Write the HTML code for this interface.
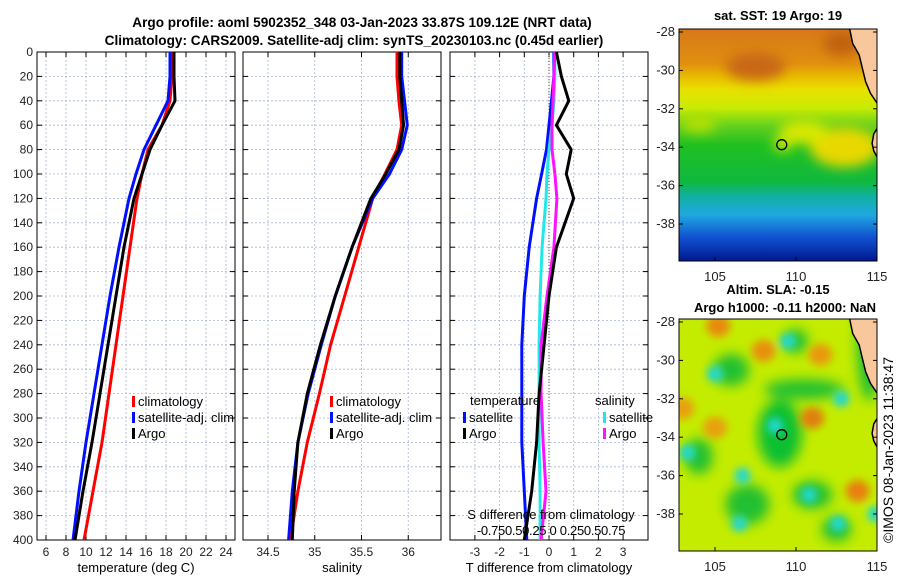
<!DOCTYPE html>
<html><head><meta charset="utf-8"><style>
body{margin:0;background:#fff;}
svg{display:block;font-family:"Liberation Sans","DejaVu Sans",sans-serif;}
</style></head><body>
<svg id="fig" width="900" height="580" viewBox="0 0 900 580">
<defs>
<clipPath id="c1"><rect x="37" y="52" width="198" height="488"/></clipPath>
<clipPath id="c2"><rect x="243" y="52" width="198" height="488"/></clipPath>
<clipPath id="c3"><rect x="450" y="52" width="198" height="488"/></clipPath>
<clipPath id="cm1"><rect x="679" y="29" width="198" height="232"/></clipPath>
<clipPath id="cm2"><rect x="679" y="319" width="198" height="232"/></clipPath>
<filter id="blur6"><feGaussianBlur stdDeviation="6"/></filter>
<filter id="blur4"><feGaussianBlur stdDeviation="4"/></filter>
<linearGradient id="sstgrad" x1="0" y1="0" x2="0" y2="1">
<stop offset="0" stop-color="#d87818"/><stop offset="0.15" stop-color="#e09010"/>
<stop offset="0.2" stop-color="#e8b800"/><stop offset="0.26" stop-color="#e8e000"/>
<stop offset="0.34" stop-color="#c8ec00"/><stop offset="0.42" stop-color="#60d020"/>
<stop offset="0.5" stop-color="#20c020"/><stop offset="0.66" stop-color="#10b840"/>
<stop offset="0.72" stop-color="#10b0a0"/><stop offset="0.8" stop-color="#20a8e0"/>
<stop offset="0.9" stop-color="#1050d0"/><stop offset="1" stop-color="#001890"/>
</linearGradient>
</defs>
<text x="362" y="27" text-anchor="middle" font-size="13.6" font-weight="bold">Argo profile: aoml 5902352_348 03-Jan-2023 33.87S 109.12E (NRT data)</text>
<text x="354" y="45" text-anchor="middle" font-size="13.6" font-weight="bold">Climatology: CARS2009. Satellite-adj clim: synTS_20230103.nc (0.45d earlier)</text>
<g id="p1"></g>
<g id="p2"></g>
<g id="p3"></g>
<g id="m1"></g>
<g id="m2"></g>
<text transform="translate(893,450) rotate(-90)" text-anchor="middle" font-size="14">©IMOS 08-Jan-2023 11:38:47</text>
</svg>
<script>
const depths=[0,20,40,60,80,100,120,160,200,240,280,320,360,400];
const tClim=[18.6,18.6,18.4,17.6,16.2,15.6,15.1,14.4,13.7,13.0,12.3,11.6,10.7,9.8];
const tSat=[18.4,18.4,18.2,17.0,15.8,15.0,14.3,13.3,12.4,11.6,10.8,10.0,9.3,8.7];
const tArgo=[18.8,18.8,18.9,17.6,16.4,15.6,14.8,13.8,13.0,12.2,11.4,10.6,9.7,8.9];
const sClim=[35.88,35.88,35.90,35.93,35.88,35.75,35.62,35.47,35.32,35.17,35.05,34.92,34.82,34.74];
const sSat=[35.93,35.93,35.96,35.99,35.93,35.80,35.62,35.40,35.22,35.07,34.93,34.82,34.76,34.72];
const sArgo=[35.91,35.91,35.93,35.95,35.90,35.76,35.60,35.40,35.22,35.06,34.92,34.82,34.78,34.76];
const dTSat=[0.2,0.2,0.1,0,-0.1,-0.3,-0.5,-0.8,-1.0,-1.1,-1.1,-1.1,-1.0,-0.9];
const dTArgo=[0.3,0.5,0.8,0.3,0.9,0.7,1.0,0.3,0,-0.2,-0.4,-0.5,-0.7,-1.0];
const dSSat=[0.06,0.06,0.05,0.03,0.0,-0.02,-0.03,-0.07,-0.09,-0.10,-0.10,-0.10,-0.09,-0.09];
const dSArgo=[0.06,0.05,0.04,0.03,0.03,0.06,0.08,0.05,-0.02,-0.08,-0.08,-0.06,-0.03,-0.08];
const depthTicks=[0,20,40,60,80,100,120,140,160,180,200,220,240,260,280,300,320,340,360,380,400];
const tTicks=[6,8,10,12,14,16,18,20,22,24];
const sTicks=[34.5,35,35.5,36];
const dTicks=[-3,-2,-1,0,1,2,3];
const lonTicks=[105,110,115];
const latTicks=[-28,-30,-32,-34,-36,-38];
const coastLon=[113.3,113.5,113.9,114.1,114.3,114.6,115.0,115.3,115.3,115.1,114.8,114.7,114.8,115.0,115.4,115.4];
const coastLat=[-27.8,-28.6,-29.2,-29.9,-30.6,-31.2,-31.7,-32.2,-32.5,-32.9,-33.3,-33.8,-34.2,-34.5,-34.7,-34.7];
const argoLon=109.12, argoLat=-33.87;

const NS='http://www.w3.org/2000/svg';
function mk(par,tag,at){const e=document.createElementNS(NS,tag);for(const k in at)e.setAttribute(k,at[k]);par.appendChild(e);return e;}
const Y=d=>52+d*1.22;
function frame(g,x0,w,xs,ticks,labels,clip,showY){
  ticks.forEach((t,i)=>{const x=xs(t);
    const gl=mk(g,'line',{x1:x,x2:x,y1:52,y2:540,stroke:'#a8b4d8','stroke-width':0.8,'stroke-dasharray':'2,2'});
    
    mk(g,'line',{x1:x,x2:x,y1:540,y2:535,stroke:'#000'});mk(g,'line',{x1:x,x2:x,y1:52,y2:57,stroke:'#000'});
    const tl=mk(g,'text',{x:x,y:556,'text-anchor':'middle','font-size':12,fill:'#222'});tl.textContent=labels[i];
    });
  depthTicks.forEach(d=>{const y=Y(d);
    const gl=mk(g,'line',{x1:x0,x2:x0+w,y1:y,y2:y,stroke:'#a8b4d8','stroke-width':0.8,'stroke-dasharray':'2,2'});
    
    mk(g,'line',{x1:x0,x2:x0+5,y1:y,y2:y,stroke:'#000'});mk(g,'line',{x1:x0+w,x2:x0+w-5,y1:y,y2:y,stroke:'#000'});
    if(showY){const tl=mk(g,'text',{x:x0-4,y:y+4,'text-anchor':'end','font-size':12,fill:'#222'});tl.textContent=d;
      }});
  const r=mk(g,'rect',{x:x0,y:52,width:w,height:488,fill:'none',stroke:'#000','stroke-width':1});
  
}
function line(g,xs,vals,color,clip,name){
  const p=vals.map((v,i)=>xs(v).toFixed(1)+','+Y(depths[i]).toFixed(1)).join(' ');
  const l=mk(g,'polyline',{points:p,fill:'none',stroke:color,'stroke-width':3,'clip-path':'url(#'+clip+')','stroke-linejoin':'round'});
  
}
function leg(g,x,y,color,txt){
  mk(g,'rect',{x:x,y:y-9,width:3,height:11,fill:color});
  const t=mk(g,'text',{x:x+6,y:y+1,'font-size':13});t.textContent=txt;
  
}
const g1=document.getElementById('p1');const xT=v=>46+(v-6)*10;
frame(g1,37,198,xT,tTicks,tTicks,'c1',true);
line(g1,xT,tClim,'#ff0000','c1','climatology-temperature-line');
line(g1,xT,tSat,'#0010ff','c1','satellite-temperature-line');
line(g1,xT,tArgo,'#000','c1','argo-temperature-line');
leg(g1,132,405,'#f00','climatology');leg(g1,132,421,'#0010ff','satellite-adj. clim');leg(g1,132,437,'#000','Argo');
let t=mk(g1,'text',{x:136,y:572,'text-anchor':'middle','font-size':13});t.textContent='temperature (deg C)';

const g2=document.getElementById('p2');const xS=v=>268+(v-34.5)*93.5;
frame(g2,243,198,xS,sTicks,sTicks,'c2',false);
line(g2,xS,sClim,'#ff0000','c2','climatology-salinity-line');
line(g2,xS,sSat,'#0010ff','c2','satellite-salinity-line');
line(g2,xS,sArgo,'#000','c2','argo-salinity-line');
leg(g2,330,405,'#f00','climatology');leg(g2,330,421,'#0010ff','satellite-adj. clim');leg(g2,330,437,'#000','Argo');
t=mk(g2,'text',{x:342,y:572,'text-anchor':'middle','font-size':13});t.textContent='salinity';

const g3=document.getElementById('p3');const xD=v=>549+v*24.7;const xDS=v=>549+v*4*24.7;
frame(g3,450,198,xD,dTicks,dTicks,'c3',false);
mk(g3,'line',{x1:549,x2:549,y1:52,y2:540,stroke:'#555','stroke-dasharray':'1,2'});
line(g3,xD,dTSat,'#0010ff','c3','temperature-satellite-diff-line');
line(g3,xDS,dSSat,'#20e8e8','c3','salinity-satellite-diff-line');
line(g3,xDS,dSArgo,'#ff10ff','c3','salinity-argo-diff-line');
line(g3,xD,dTArgo,'#000','c3','temperature-argo-diff-line');
t=mk(g3,'text',{x:470,y:405,'font-size':13});t.textContent='temperature';
t=mk(g3,'text',{x:595,y:405,'font-size':13});t.textContent='salinity';
leg(g3,463,421,'#0010ff','satellite');leg(g3,463,437,'#000','Argo');
leg(g3,603,421,'#20e8e8','satellite');leg(g3,603,437,'#ff10ff','Argo');
t=mk(g3,'text',{x:551,y:519,'text-anchor':'middle','font-size':13});t.textContent='S difference from climatology';

t=mk(g3,'text',{x:551,y:535,'text-anchor':'middle','font-size':13,'letter-spacing':'-0.3'});t.textContent='-0.750.50.25 0  0.250.50.75';

t=mk(g3,'text',{x:549,y:572,'text-anchor':'middle','font-size':13});t.textContent='T difference from climatology';

function map(id,top,clip,title1,title2,sst){
  const g=document.getElementById(id);
  const X=lon=>715+(lon-105)*16.2, YY=lat=>top+3+(-28-lat)*19.2;
  const inner=mk(g,'g',{'clip-path':'url(#'+clip+')'});
  if(sst){
    mk(inner,'rect',{x:679,y:top,width:198,height:232,fill:'url(#sstgrad)'});
    const bl=mk(inner,'g',{filter:'url(#blur6)'});
    [[107.5,-29.8,30,14,'#c86818'],[112.8,-28.6,18,12,'#c06010'],[113,-34,35,20,'#e8d800'],[110.5,-33.2,25,12,'#d8e800'],[109.2,-33.8,10,8,'#c0e800'],[104,-32.8,18,8,'#b8e000']].forEach(b=>
      mk(bl,'ellipse',{cx:X(b[0]),cy:YY(b[1]),rx:b[2],ry:b[3],fill:b[4]}));
  } else {
    mk(inner,'rect',{x:679,y:top,width:198,height:232,fill:'#c4ec00'});
    const bl=mk(inner,'g',{filter:'url(#blur6)'});
    [[109,-33.8,22,34,'#10c030'],[106,-30.5,18,16,'#20c030'],[110.5,-31.5,40,10,'#20c030'],[107,-37.5,22,20,'#20c030'],[111,-37,20,14,'#20c030'],[104,-35,14,18,'#20c030'],[114.5,-29,12,60,'#20c030'],[112.5,-38.8,15,12,'#20c030'],[110,-29,12,12,'#20c030']].forEach(b=>
      mk(bl,'ellipse',{cx:X(b[0]),cy:YY(b[1]),rx:b[2],ry:b[3],fill:b[4]}));
    const b2=mk(inner,'g',{filter:'url(#blur4)'});
    [[105.2,-28.2,'#e88a10'],[108,-29.5,'#e89010'],[111.5,-29.7,'#e89a10'],[105,-33.5,'#e8a010'],[111,-33,'#e08010'],[113.8,-36.8,'#e88010'],[103,-32.5,'#e8a010']].forEach(b=>
      mk(b2,'ellipse',{cx:X(b[0]),cy:YY(b[1]),rx:12,ry:11,fill:b[2]}));
    [[103.3,-34.8],[105,-30.7],[108.7,-33.4],[106.7,-36],[110.8,-37],[112.6,-38.5],[106.5,-38.5],[114.9,-38],[112.8,-32],[109.5,-29]].forEach(b=>
      mk(b2,'ellipse',{cx:X(b[0]),cy:YY(b[1]),rx:8,ry:8,fill:'#20d8d0'}));
  }
  const land=coastLon.map((v,i)=>X(v).toFixed(1)+','+YY(coastLat[i]).toFixed(1)).join(' ');
  const lp=mk(inner,'polygon',{points:land+' 880,'+(YY(-34.7))+' 880,'+(top-2),fill:'#f8c89c'});
  
  const cl=mk(inner,'polyline',{points:land,fill:'none',stroke:'#000','stroke-width':1.5});
  
  const c=mk(g,'circle',{cx:X(argoLon),cy:YY(argoLat),r:5,fill:'none',stroke:'#000','stroke-width':1.3});
  
  mk(g,'rect',{x:679,y:top,width:198,height:232,fill:'none',stroke:'#000'});
  lonTicks.forEach(l=>{mk(g,'line',{x1:X(l),x2:X(l),y1:top+232,y2:top+228,stroke:'#000'});
    const tl=mk(g,'text',{x:X(l),y:top+252,'text-anchor':'middle','font-size':13,fill:'#222'});tl.textContent=l;
    });
  latTicks.forEach(l=>{mk(g,'line',{x1:679,x2:683,y1:YY(l),y2:YY(l),stroke:'#000'});mk(g,'line',{x1:877,x2:873,y1:YY(l),y2:YY(l),stroke:'#000'});
    const tl=mk(g,'text',{x:675,y:YY(l)+4,'text-anchor':'end','font-size':13,fill:'#222'});tl.textContent=l;
    });
  let tt=mk(g,'text',{x:778,y:top-9-(title2?16:0),'text-anchor':'middle','font-size':13,'font-weight':'bold'});tt.textContent=title1;
  
  if(title2){tt=mk(g,'text',{x:785,y:top-7,'text-anchor':'middle','font-size':13,'font-weight':'bold'});tt.textContent=title2;
    }
}
map('m1',29,'cm1','sat. SST: 19 Argo: 19',null,true);
map('m2',319,'cm2','Altim. SLA: -0.15','Argo h1000: -0.11 h2000: NaN',false);
</script>
</body></html>
